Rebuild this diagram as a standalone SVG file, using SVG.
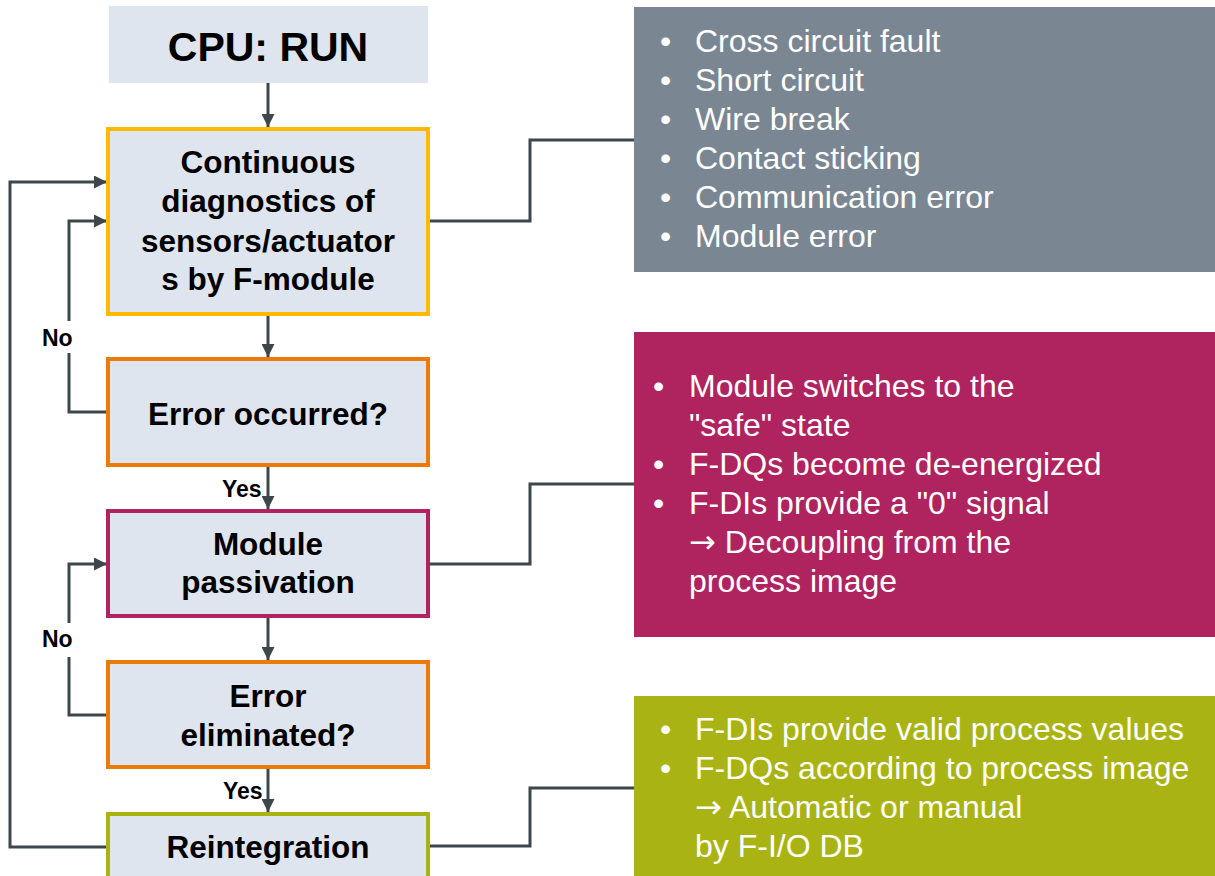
<svg xmlns="http://www.w3.org/2000/svg" width="1215" height="876" viewBox="0 0 1215 876">
<defs>
<style>
.box{fill:#dfe5ee;stroke-width:4}
.lbl{font-family:"Liberation Sans",Arial,sans-serif;font-weight:bold;font-size:31.5px;fill:#000;text-anchor:middle}
.yn{font-family:"Liberation Sans",Arial,sans-serif;font-weight:bold;font-size:23px;fill:#000}
.lst{font-family:"Liberation Sans",Arial,sans-serif;font-size:32px;fill:#fff}
.arr{font-family:"DejaVu Sans",sans-serif}
.con{fill:none;stroke:#3c464b;stroke-width:3}
</style>
<marker id="ah" markerUnits="userSpaceOnUse" markerWidth="13" markerHeight="13" refX="13" refY="6.5" orient="auto">
<path d="M0,0 L13,6.5 L0,13 z" fill="#3c464b"/>
</marker>
</defs>
<rect width="1215" height="876" fill="#fff"/>

<g id="connectors">
<line class="con" x1="268" y1="83" x2="268" y2="127" marker-end="url(#ah)"/>
<line class="con" x1="268" y1="316" x2="268" y2="357" marker-end="url(#ah)"/>
<line class="con" x1="268" y1="467" x2="268" y2="509" marker-end="url(#ah)"/>
<line class="con" x1="268" y1="618" x2="268" y2="660" marker-end="url(#ah)"/>
<line class="con" x1="268" y1="769" x2="268" y2="812" marker-end="url(#ah)"/>
<polyline class="con" points="107,412 69,412 69,353"/>
<polyline class="con" points="69,321 69,221 107,221" marker-end="url(#ah)"/>
<polyline class="con" points="107,715 69,715 69,657"/>
<polyline class="con" points="69,623 69,564 107,564" marker-end="url(#ah)"/>
<polyline class="con" points="107,847 10,847 10,182 107,182" marker-end="url(#ah)"/>
<polyline class="con" points="430,221 530,221 530,140 634,140"/>
<polyline class="con" points="430,564 530,564 530,484 634,484"/>
<polyline class="con" points="430,846 530,846 530,788 634,788"/>
<text class="yn" x="42" y="346">No</text>
<text class="yn" x="42" y="647">No</text>
<text class="yn" x="222" y="497">Yes</text>
<text class="yn" x="223" y="799">Yes</text>
</g>

<g id="cpu">
<rect x="109" y="6" width="319" height="77" fill="#dfe5ee"/>
<text class="lbl" x="268" y="61" style="font-size:41px">CPU: RUN</text>
</g>

<g id="diag">
<rect class="box" x="108" y="129" width="320" height="185" stroke="#ffb900"/>
<text class="lbl" x="268" y="173">Continuous</text>
<text class="lbl" x="268" y="212">diagnostics of</text>
<text class="lbl" x="268" y="252">sensors/actuator</text>
<text class="lbl" x="268" y="290">s by F-module</text>
</g>

<g id="err1">
<rect class="box" x="108" y="359" width="320" height="106" stroke="#ec7a08"/>
<text class="lbl" x="268" y="425">Error occurred?</text>
</g>

<g id="pass">
<rect class="box" x="108" y="511" width="320" height="105" stroke="#af235f"/>
<text class="lbl" x="268" y="555">Module</text>
<text class="lbl" x="268" y="593">passivation</text>
</g>

<g id="err2">
<rect class="box" x="108" y="662" width="320" height="105" stroke="#ec7a08"/>
<text class="lbl" x="268" y="707">Error</text>
<text class="lbl" x="268" y="746">eliminated?</text>
</g>

<g id="reint">
<rect class="box" x="108" y="814" width="320" height="80" stroke="#a9b414"/>
<text class="lbl" x="268" y="858">Reintegration</text>
</g>

<g id="faults">
<rect x="634" y="7" width="581" height="265" fill="#7a8793"/>
<text class="lst" x="660" y="52">•</text><text class="lst" x="695" y="52">Cross circuit fault</text>
<text class="lst" x="660" y="91">•</text><text class="lst" x="695" y="91">Short circuit</text>
<text class="lst" x="660" y="130">•</text><text class="lst" x="695" y="130">Wire break</text>
<text class="lst" x="660" y="169">•</text><text class="lst" x="695" y="169">Contact sticking</text>
<text class="lst" x="660" y="208">•</text><text class="lst" x="695" y="208">Communication error</text>
<text class="lst" x="660" y="247">•</text><text class="lst" x="695" y="247">Module error</text>
</g>

<g id="passinfo">
<rect x="634" y="332" width="581" height="305" fill="#af235f"/>
<text class="lst" x="653" y="397">•</text><text class="lst" x="689" y="397">Module switches to the</text>
<text class="lst" x="689" y="436">"safe" state</text>
<text class="lst" x="653" y="475">•</text><text class="lst" x="689" y="475">F-DQs become de-energized</text>
<text class="lst" x="653" y="514">•</text><text class="lst" x="689" y="514">F-DIs provide a "0" signal</text>
<text class="lst" x="689" y="553"><tspan class="arr">→</tspan> Decoupling from the</text>
<text class="lst" x="689" y="592">process image</text>
</g>

<g id="reintinfo">
<rect x="634" y="696" width="581" height="180" fill="#a9b414"/>
<text class="lst" x="660" y="740">•</text><text class="lst" x="695" y="740">F-DIs provide valid process values</text>
<text class="lst" x="660" y="779">•</text><text class="lst" x="695" y="779">F-DQs according to process image</text>
<text class="lst" x="695" y="818"><tspan class="arr">→</tspan> Automatic or manual</text>
<text class="lst" x="695" y="857">by F-I/O DB</text>
</g>
</svg>
